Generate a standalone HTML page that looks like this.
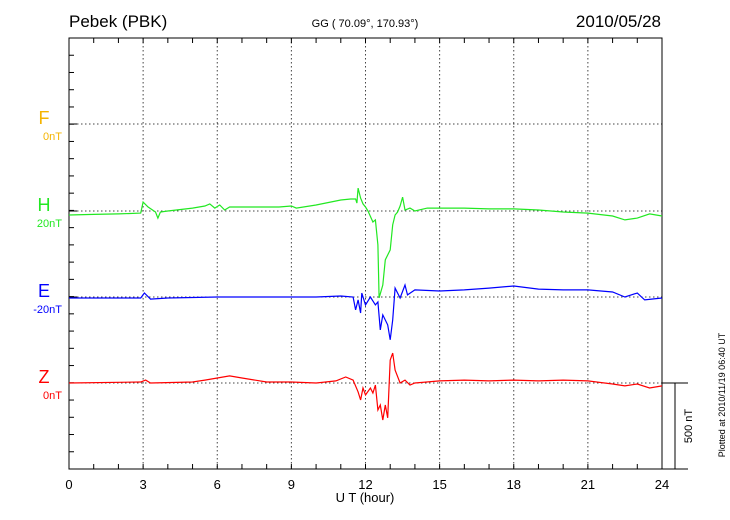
<!DOCTYPE html>
<html><head><meta charset="utf-8"><style>
body{margin:0;background:#fff;}
svg{display:block;font-family:"Liberation Sans",sans-serif;}
</style></head><body>
<svg id="c" width="730" height="520">
<text x="69" y="27" font-size="17">Pebek (PBK)</text>
<text x="365" y="27" font-size="11" text-anchor="middle">GG ( 70.09°, 170.93°)</text>
<text x="661" y="27" font-size="17" text-anchor="end">2010/05/28</text>
<text x="365" y="502" font-size="13" text-anchor="middle">U T (hour)</text>
<text transform="translate(725,395) rotate(-90)" font-size="9" text-anchor="middle">Plotted at 2010/11/19 06:40 UT</text>
<text transform="translate(692,426) rotate(-90)" font-size="11" text-anchor="middle">500 nT</text>
</svg>
<script>
const xMin=69,xMax=662,yTop=38,yBot=469,pxPerNT=86/500;
const xTicks=[0,3,6,9,12,15,18,21,24];
const baselines=[124,211,297,383];
const compNames=['F','H','E','Z'];
const compOffsets=['0nT','20nT','-20nT','0nT'];
const compColors=['#f5b400','#22e822','#0000ff','#ff0000'];
const hT=[0,1,2,2.9,3.0,3.2,3.5,3.6,3.7,4,5,5.5,5.7,5.9,6.1,6.3,6.5,7,8,8.5,9,9.2,10,11,11.4,11.6,11.65,11.7,11.8,11.9,12,12.1,12.3,12.4,12.5,12.55,12.7,12.8,13,13.1,13.2,13.3,13.4,13.5,13.6,13.8,14,14.5,15,16,17,18,19,20,21,22,22.5,23,23.5,24];
const hV=[-23,-20,-17,-12,52,23,-6,-41,-6,0,17,29,41,17,35,6,23,23,23,23,29,17,35,64,70,70,46,133,75,41,23,0,-64,-52,-197,-505,-430,-284,-226,-81,-23,-6,29,81,6,17,0,17,17,17,12,12,6,-6,-12,-29,-52,-41,-17,-29];
const eT=[0,2.9,3.05,3.3,4,6,8,10,11,11.5,11.6,11.7,11.8,11.85,12,12.2,12.4,12.5,12.6,12.7,12.9,13.0,13.1,13.2,13.4,13.6,13.7,14,15,16,17,18,19,20,21,22,22.5,23,23.3,24];
const eV=[-6,-6,23,-12,-6,0,0,0,6,0,-75,-17,-93,23,-46,0,-46,-29,-191,-104,-162,-249,-133,52,-6,70,12,41,35,41,52,64,46,41,41,29,0,23,-17,-6];
const zT=[0,2.9,3.1,3.3,5,5.5,6,6.5,7,8,9,10,10.8,11.2,11.5,11.7,11.8,11.9,12,12.2,12.3,12.4,12.5,12.6,12.7,12.8,12.9,13,13.1,13.2,13.4,13.6,13.8,14,15,16,17,18,19,20,21,22,22.5,23,23.5,24];
const zV=[0,6,17,0,6,17,29,41,29,6,6,0,12,35,17,-52,-99,-29,-70,-29,-58,-12,-157,-128,-215,-128,-203,133,174,75,0,17,-12,0,12,17,12,17,12,17,12,-6,-17,-6,-29,-17];
const svg=document.getElementById('c');
const NS='http://www.w3.org/2000/svg';
const X=h=>xMin+(xMax-xMin)*h/24;
function mk(tag,attrs){const e=document.createElementNS(NS,tag);for(const k in attrs)e.setAttribute(k,attrs[k]);svg.appendChild(e);return e;}
// grid
xTicks.slice(1,-1).forEach(h=>{const l=mk('line',{x1:X(h),x2:X(h),y1:yTop,y2:yBot,stroke:'#444','stroke-dasharray':'1.5,2.5','stroke-width':1});

});
baselines.forEach(b=>{const l=mk('line',{x1:xMin,x2:xMax,y1:b,y2:b,stroke:'#444','stroke-dasharray':'1.5,2.5','stroke-width':1});

});
// minor ticks
for(let h=1;h<24;h++){mk('line',{x1:X(h),x2:X(h),y1:yTop,y2:yTop+5,stroke:'#000'});mk('line',{x1:X(h),x2:X(h),y1:yBot,y2:yBot-5,stroke:'#000'});}
for(let i=1;i<25;i++){const y=yTop+(yBot-yTop)*i/25;mk('line',{x1:xMin,x2:xMin+5,y1:y,y2:y,stroke:'#000'});}
baselines.forEach(b=>mk('line',{x1:xMin,x2:xMin+8,y1:b,y2:b,stroke:'#000'}));
// frame
const fr=mk('rect',{x:xMin,y:yTop,width:xMax-xMin,height:yBot-yTop,fill:'none',stroke:'#000','stroke-width':1});


// x tick labels
xTicks.forEach(h=>{const t=mk('text',{x:X(h),y:489,'font-size':13,'text-anchor':'middle'});t.textContent=h;

});
// labels
baselines.forEach((b,i)=>{const t=mk('text',{x:44,y:b,'font-size':18,'text-anchor':'middle',fill:compColors[i]});t.textContent=compNames[i];


const o=mk('text',{x:62,y:b+16,'font-size':11,'text-anchor':'end',fill:compColors[i]});o.textContent=compOffsets[i];

});
// scale bar
mk('line',{x1:xMax,x2:688,y1:383,y2:383,stroke:'#000'});
mk('line',{x1:xMax,x2:688,y1:yBot,y2:yBot,stroke:'#000'});
const sb=mk('line',{x1:675,x2:675,y1:383,y2:383+500*pxPerNT,stroke:'#000'});


// series
[[hT,hV,1,'h-trace'],[eT,eV,2,'e-trace'],[zT,zV,3,'z-trace']].forEach(([t,v,i,n])=>{
const d=t.map((h,k)=>(k?'L':'M')+X(h).toFixed(1)+','+(baselines[i]-v[k]*pxPerNT).toFixed(1)).join('');
const p=mk('path',{d:d,fill:'none',stroke:compColors[i],'stroke-width':1.2});

});
</script>
</body></html>
